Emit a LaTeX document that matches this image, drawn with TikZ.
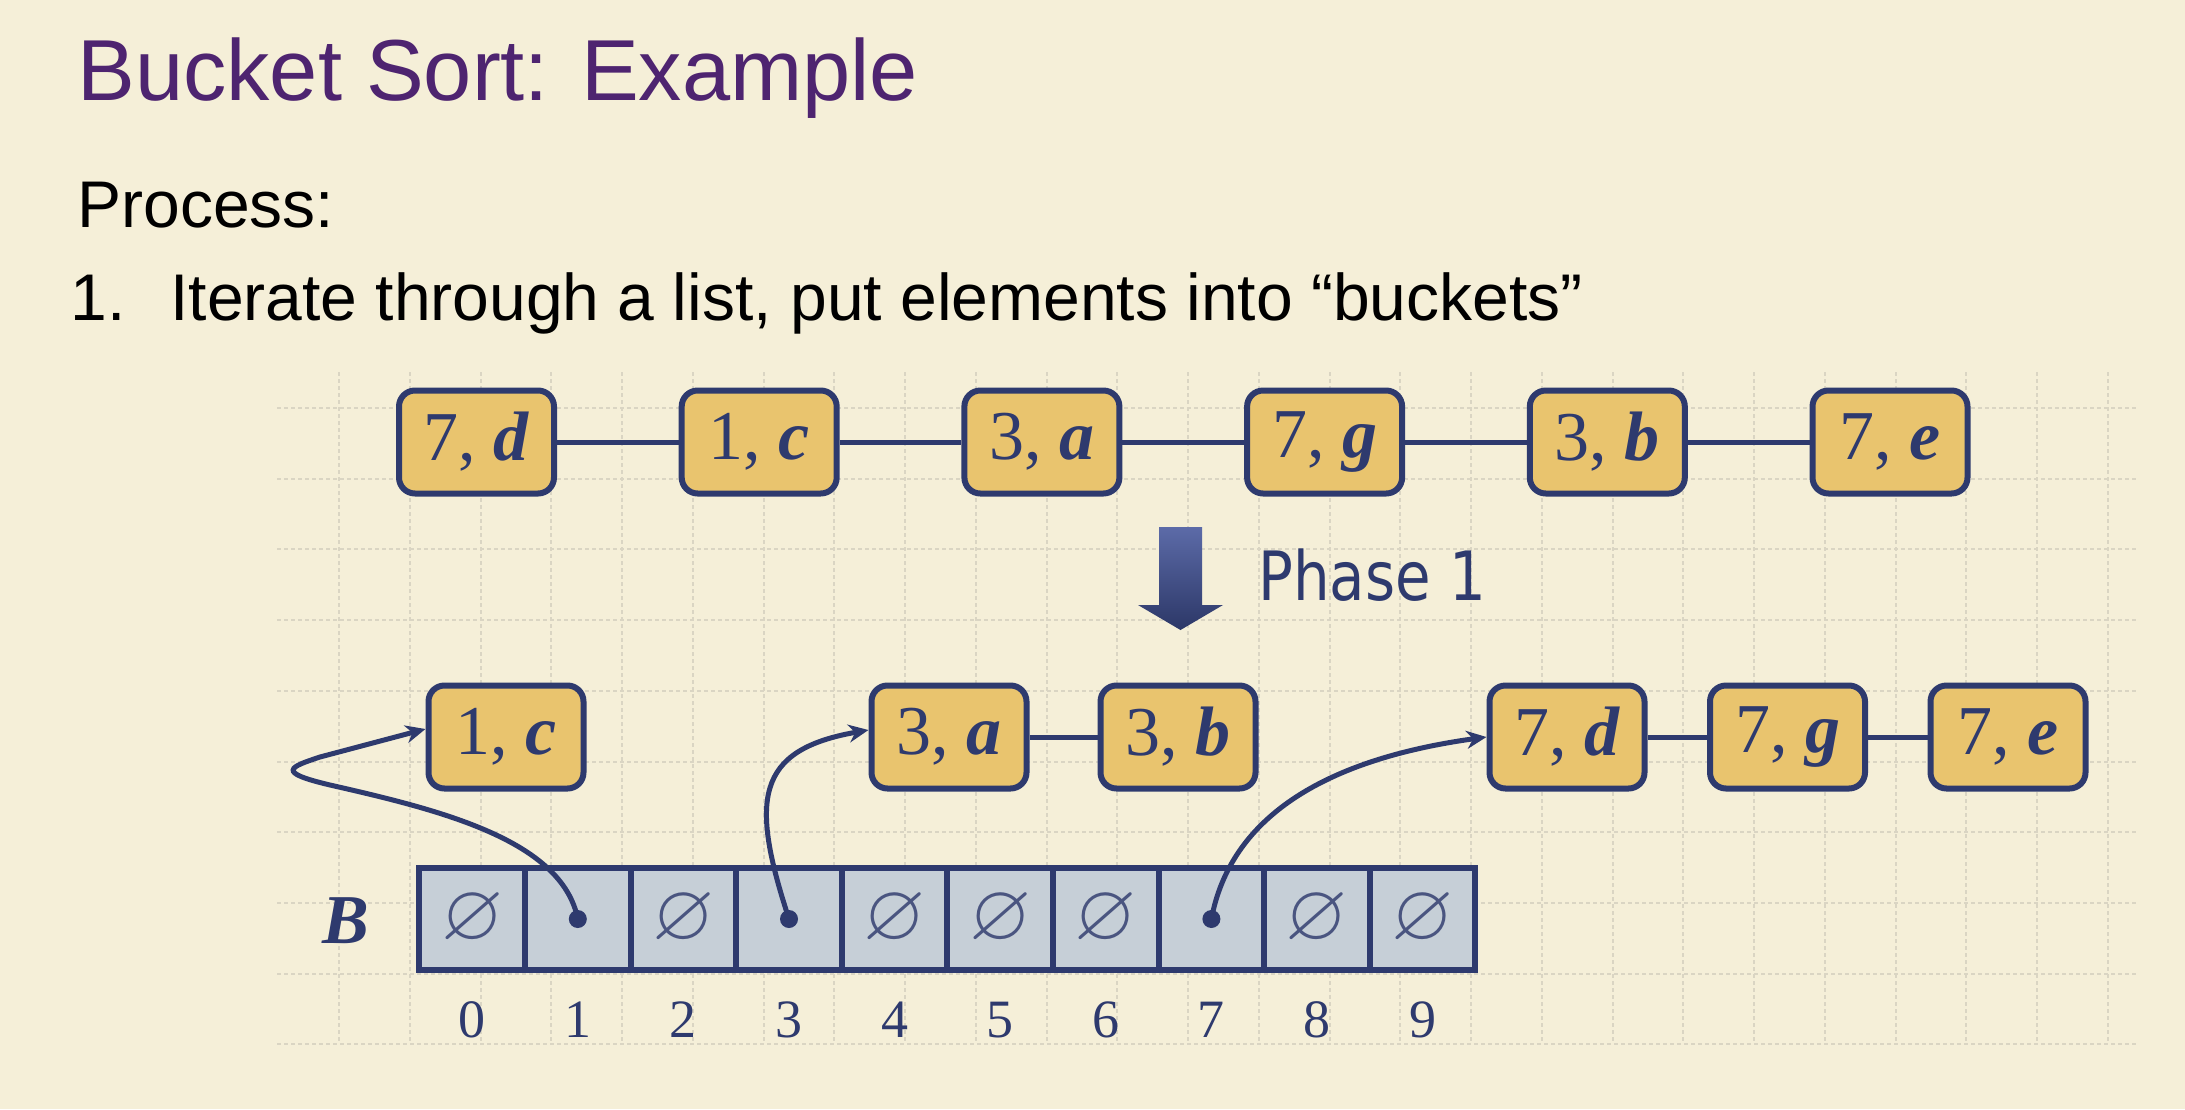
\documentclass[tikz,border=0pt]{standalone}
\usepackage{fontspec}
\usepackage{amssymb}
\setmainfont{Liberation Sans}
\newfontfamily\seriffont{Liberation Serif}
\newfontfamily\phasefont{DejaVu Sans}
\usetikzlibrary{arrows.meta}
\definecolor{bg}{HTML}{F5EFD8}
\definecolor{gridc}{HTML}{DAD5C3}
\definecolor{titlec}{HTML}{4E2470}
\definecolor{navy}{HTML}{2E3A6E}
\definecolor{boxfill}{HTML}{E9C46E}
\definecolor{cellfill}{HTML}{C6CFD7}
\definecolor{nullc}{HTML}{4A5580}
\definecolor{arrowtop}{HTML}{5C6BA8}
\definecolor{arrowbot}{HTML}{2C3767}
\begin{document}
\begin{tikzpicture}[x=0.5pt,y=-0.5pt,
  gridline/.style={gridc, line width=1pt, dash pattern=on 2pt off 1.5pt},
  itembox/.style={draw=navy, fill=boxfill, line width=3pt, rounded corners=8pt, minimum width=77.5pt, minimum height=51.5pt, inner sep=0pt, text=navy, font=\seriffont\fontsize{35}{40}\selectfont},
  link/.style={navy, line width=2.5pt},
  cellbox/.style={draw=navy, fill=cellfill, line width=3pt, minimum width=52.8pt, minimum height=51pt, inner sep=0pt},
  nullsym/.style={text=nullc, inner sep=0pt, font=\fontsize{40}{46}\selectfont},
  idx/.style={text=navy, inner sep=0pt, font=\seriffont\fontsize{27}{30}\selectfont},
  ptr/.style={navy, line width=2.5pt, -{Stealth[length=10pt,width=9pt]}},
  dotc/.style={circle, fill=navy, inner sep=0pt, minimum size=9pt},
  txt/.style={anchor=base west, inner sep=0pt},
]
\fill[bg] (0,0) rectangle (2185,1109);
\useasboundingbox (0,0) rectangle (2185,1109);
% grid
\foreach \k in {0,...,25} \draw[gridline] ({339+70.75*\k},372) -- ({339+70.75*\k},1044);
\foreach \k in {0,...,9} \draw[gridline] (277,{408+70.7*\k}) -- (2137,{408+70.7*\k});
% texts
\node[txt, text=titlec, font=\fontsize{43.3}{50}\selectfont] (title) at (77,100) {Bucket Sort: Example};
\node[txt, font=\fontsize{33}{40}\selectfont] (proc) at (77,227) {Process:};
\node[txt, font=\fontsize{33}{40}\selectfont] (num) at (70,320) {1.};
\node[txt, font=\fontsize{33}{40}\selectfont] (step) at (170,320) {Iterate through a list, put elements into “buckets”};
% top row
\node[itembox] (t1) at (476.5,442) {7, \textbf{\textit{d}}};
\node[itembox] (t2) at (759.2,442) {1, \textbf{\textit{c}}};
\node[itembox] (t3) at (1041.9,442) {3, \textbf{\textit{a}}};
\node[itembox] (t4) at (1324.6,442) {7, \textbf{\textit{g}}};
\node[itembox] (t5) at (1607.3,442) {3, \textbf{\textit{b}}};
\node[itembox] (t6) at (1890,442) {7, \textbf{\textit{e}}};
\draw[link] (t1) -- (t2);
\draw[link] (t2) -- (t3);
\draw[link] (t3) -- (t4);
\draw[link] (t4) -- (t5);
\draw[link] (t5) -- (t6);
% phase arrow
\shade[top color=arrowtop, bottom color=arrowbot] (1159,527) -- (1202,527) -- (1202,605) -- (1223,605) -- (1180.5,630) -- (1138,605) -- (1159,605) -- cycle;
\node[txt, text=navy, font=\phasefont\fontsize{34}{40}\selectfont] (phase) at (1258,600) {\scalebox{0.85}[1]{Phase 1}};
% bottom row
\node[itembox] (b1) at (506,737) {1, \textbf{\textit{c}}};
\node[itembox] (b2) at (949,737) {3, \textbf{\textit{a}}};
\node[itembox] (b3) at (1178,737) {3, \textbf{\textit{b}}};
\node[itembox] (b4) at (1567,737) {7, \textbf{\textit{d}}};
\node[itembox] (b5) at (1787.5,737) {7, \textbf{\textit{g}}};
\node[itembox] (b6) at (2008,737) {7, \textbf{\textit{e}}};
\draw[link] (b2) -- (b3);
\draw[link] (b4) -- (b5);
\draw[link] (b5) -- (b6);
% array
\foreach \i in {0,...,9} \node[cellbox] (c\i) at ({472.2+105.6*\i},919) {};
\foreach \i in {0,2,4,5,6,8,9} \node[nullsym] (n\i) at (c\i) {$\varnothing$};
\foreach \i in {0,...,9} \node[idx] (i\i) at ({472.2+105.6*\i},1020) {\i};
\node[text=navy, inner sep=0pt, font=\seriffont\bfseries\itshape\fontsize{35}{40}\selectfont] (blabel) at (346,921) {B};
% pointers
\node[dotc] (d1) at (c1) {};
\node[dotc] (d3) at (c3) {};
\node[dotc] (d7) at (c7) {};
\draw[ptr] (d1.center) .. controls (562,840) and (440,810) .. (330,785) .. controls (275,772) and (290,767) .. (320,757) -- ([yshift=4pt]b1.west);
\draw[ptr] (d3.center) .. controls (750,800) and (755,750) .. ([yshift=3.5pt]b2.west);
\draw[ptr] (d7.center) .. controls (1230,820) and (1320,760) .. (b4.west);
\end{tikzpicture}
\end{document}
